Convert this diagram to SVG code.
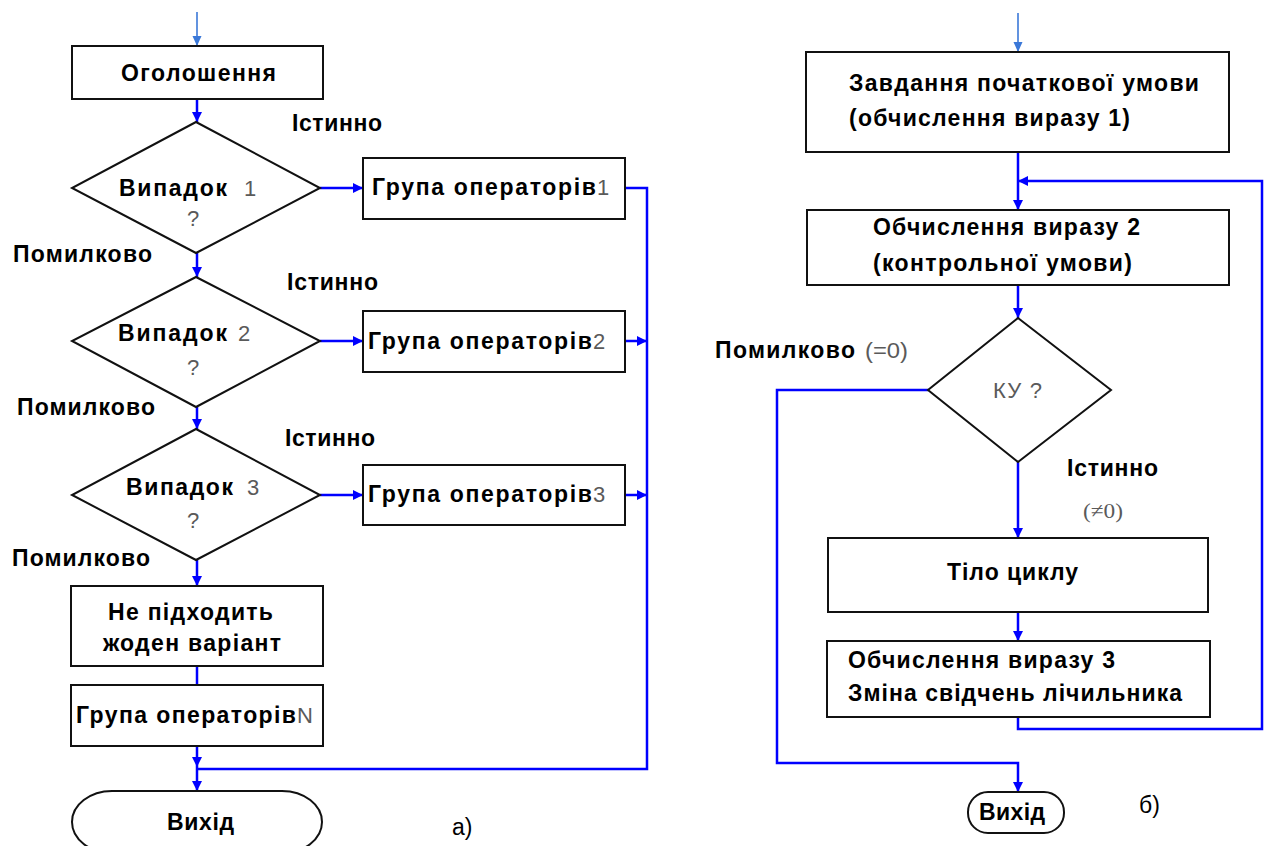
<svg xmlns="http://www.w3.org/2000/svg" width="1264" height="846" viewBox="0 0 1264 846">
  <style>
    .t { font-family: "Liberation Sans", Arial, sans-serif; font-weight: bold; font-size: 23px; fill: #000; }
    .g { font-family: "Liberation Sans", Arial, sans-serif; font-size: 22px; fill: #5a5a5a; }
    .s { font-family: "Liberation Serif", "Times New Roman", serif; font-size: 22px; fill: #5a5a5a; }
    .r { font-family: "Liberation Sans", Arial, sans-serif; font-size: 23px; fill: #000; }
    .box { fill: #fff; stroke: #111; stroke-width: 2; }
    .c { fill: none; stroke: #0000ff; stroke-width: 2.5; }
    .c0 { fill: none; stroke: #3b78d8; stroke-width: 1.6; }
  </style>
  <defs>
    <marker id="ah" markerUnits="userSpaceOnUse" markerWidth="10" markerHeight="10" refX="10" refY="5" orient="auto">
      <path d="M0,0 L10,5 L0,10 z" fill="#0000ff"/>
    </marker>
    <marker id="ah0" markerUnits="userSpaceOnUse" markerWidth="10" markerHeight="10" refX="10" refY="5" orient="auto">
      <path d="M0,0.5 L10,5 L0,9.5 z" fill="#3b78d8"/>
    </marker>
  </defs>

  <rect width="1264" height="846" fill="#fff"/>

  <!-- connectors -->
  <g id="connectors">
    <!-- a) switch -->
    <line class="c0" x1="197" y1="12" x2="197" y2="46" marker-end="url(#ah0)"/>
    <line class="c" x1="197" y1="99" x2="197" y2="122" marker-end="url(#ah)"/>
    <line class="c" x1="197" y1="253" x2="197" y2="277" marker-end="url(#ah)"/>
    <line class="c" x1="197" y1="407" x2="197" y2="429" marker-end="url(#ah)"/>
    <line class="c" x1="197" y1="560" x2="197" y2="586" marker-end="url(#ah)"/>
    <line class="c" x1="197" y1="666" x2="197" y2="685"/>
    <line class="c" x1="197" y1="746" x2="197" y2="767" marker-end="url(#ah)"/>
    <line class="c" x1="197" y1="767" x2="197" y2="791" marker-end="url(#ah)"/>
    <line class="c" x1="320" y1="188" x2="363" y2="188" marker-end="url(#ah)"/>
    <line class="c" x1="320" y1="341" x2="363" y2="341" marker-end="url(#ah)"/>
    <line class="c" x1="320" y1="495" x2="363" y2="495" marker-end="url(#ah)"/>
    <path class="c" d="M625,188 H647 V769 H197"/>
    <line class="c" x1="625" y1="341" x2="647" y2="341" marker-end="url(#ah)"/>
    <line class="c" x1="625" y1="495" x2="647" y2="495" marker-end="url(#ah)"/>

    <!-- б) loop -->
    <line class="c0" x1="1018" y1="13" x2="1018" y2="52" marker-end="url(#ah0)"/>
    <line class="c" x1="1018" y1="152" x2="1018" y2="210" marker-end="url(#ah)"/>
    <path class="c" d="M1018,717 V729 H1262 V181 H1018" marker-end="url(#ah)"/>
    <line class="c" x1="1018" y1="285" x2="1018" y2="318" marker-end="url(#ah)"/>
    <line class="c" x1="1018" y1="462" x2="1018" y2="538" marker-end="url(#ah)"/>
    <line class="c" x1="1018" y1="612" x2="1018" y2="641" marker-end="url(#ah)"/>
    <path class="c" d="M928,390 H777 V763 H1018 V792" marker-end="url(#ah)"/>
  </g>

  <!-- a) nodes -->
  <g id="declare">
    <rect class="box" x="72" y="46" width="251" height="53"/>
    <text class="t" x="121" y="81" textLength="155" lengthAdjust="spacing">Оголошення</text>
  </g>
  <g id="case1">
    <polygon class="box" points="196,122 320,188 196,253 72,188"/>
    <text class="t" x="119" y="196" textLength="108" lengthAdjust="spacing">Випадок</text>
    <text class="g" x="244" y="196">1</text>
    <text class="g" x="187" y="226">?</text>
  </g>
  <g id="ops1">
    <rect class="box" x="363" y="158" width="262" height="61"/>
    <text class="t" x="372" y="195" textLength="224" lengthAdjust="spacing">Група операторів</text>
    <text class="g" x="597" y="195">1</text>
  </g>
  <g id="case2">
    <polygon class="box" points="196,277 320,341 196,407 72,341"/>
    <text class="t" x="118" y="341" textLength="109" lengthAdjust="spacing">Випадок</text>
    <text class="g" x="238" y="341">2</text>
    <text class="g" x="187" y="375">?</text>
  </g>
  <g id="ops2">
    <rect class="box" x="363" y="311" width="262" height="61"/>
    <text class="t" x="368" y="349" textLength="224" lengthAdjust="spacing">Група операторів</text>
    <text class="g" x="593" y="349">2</text>
  </g>
  <g id="case3">
    <polygon class="box" points="196,429 320,495 196,560 72,495"/>
    <text class="t" x="126" y="495" textLength="107" lengthAdjust="spacing">Випадок</text>
    <text class="g" x="247" y="495">3</text>
    <text class="g" x="187" y="528">?</text>
  </g>
  <g id="ops3">
    <rect class="box" x="363" y="465" width="262" height="60"/>
    <text class="t" x="368" y="502" textLength="224" lengthAdjust="spacing">Група операторів</text>
    <text class="g" x="593" y="502">3</text>
  </g>
  <g id="default">
    <rect class="box" x="71" y="586" width="252" height="80"/>
    <text class="t" x="108" y="620" textLength="165" lengthAdjust="spacing">Не підходить</text>
    <text class="t" x="103" y="651" textLength="178" lengthAdjust="spacing">жоден варіант</text>
  </g>
  <g id="opsN">
    <rect class="box" x="71" y="685" width="252" height="61"/>
    <text class="t" x="76" y="723" textLength="220" lengthAdjust="spacing">Група операторів</text>
    <text class="g" x="297" y="723">N</text>
  </g>
  <g id="exitA">
    <rect class="box" x="72" y="791" width="250" height="62" rx="40" ry="31"/>
    <text class="t" x="167" y="830" textLength="67" lengthAdjust="spacing">Вихід</text>
  </g>

  <!-- a) branch labels -->
  <g id="labelsA">
    <text class="t" x="292" y="131" textLength="90" lengthAdjust="spacing">Істинно</text>
    <text class="t" x="287" y="290" textLength="91" lengthAdjust="spacing">Істинно</text>
    <text class="t" x="285" y="446" textLength="90" lengthAdjust="spacing">Істинно</text>
    <text class="t" x="13" y="262" textLength="139" lengthAdjust="spacing">Помилково</text>
    <text class="t" x="17" y="415" textLength="138" lengthAdjust="spacing">Помилково</text>
    <text class="t" x="12" y="566" textLength="138" lengthAdjust="spacing">Помилково</text>
    <text class="r" x="452" y="835">а)</text>
  </g>

  <!-- б) nodes -->
  <g id="init">
    <rect class="box" x="806" y="52" width="423" height="100"/>
    <text class="t" x="849" y="91" textLength="350" lengthAdjust="spacing">Завдання початкової умови</text>
    <text class="t" x="849" y="126" textLength="281" lengthAdjust="spacing">(обчислення виразу 1)</text>
  </g>
  <g id="expr2">
    <rect class="box" x="807" y="210" width="422" height="75"/>
    <text class="t" x="873" y="235" textLength="267" lengthAdjust="spacing">Обчислення виразу 2</text>
    <text class="t" x="873" y="271" textLength="259" lengthAdjust="spacing">(контрольної умови)</text>
  </g>
  <g id="cond">
    <polygon class="box" points="1018,318 1111,390 1018,462 928,390"/>
    <text class="g" x="993" y="398" textLength="49" lengthAdjust="spacing">КУ ?</text>
  </g>
  <g id="body">
    <rect class="box" x="828" y="538" width="380" height="74"/>
    <text class="t" x="947" y="580" textLength="131" lengthAdjust="spacing">Тіло циклу</text>
  </g>
  <g id="expr3">
    <rect class="box" x="827" y="641" width="383" height="76"/>
    <text class="t" x="848" y="668" textLength="267" lengthAdjust="spacing">Обчислення виразу 3</text>
    <text class="t" x="848" y="701" textLength="334" lengthAdjust="spacing">Зміна свідчень лічильника</text>
  </g>
  <g id="exitB">
    <rect class="box" x="968" y="792" width="96" height="41" rx="20" ry="20"/>
    <text class="t" x="979" y="820" textLength="66" lengthAdjust="spacing">Вихід</text>
  </g>

  <!-- б) branch labels -->
  <g id="labelsB">
    <text class="t" x="715" y="358" textLength="140" lengthAdjust="spacing">Помилково</text>
    <text class="g" x="865" y="358" textLength="43" lengthAdjust="spacingAndGlyphs">(=0)</text>
    <text class="t" x="1067" y="476" textLength="91" lengthAdjust="spacing">Істинно</text>
    <text class="s" x="1083" y="518" textLength="40" lengthAdjust="spacingAndGlyphs">(≠0)</text>
    <text class="r" x="1139" y="813">б)</text>
  </g>
</svg>
